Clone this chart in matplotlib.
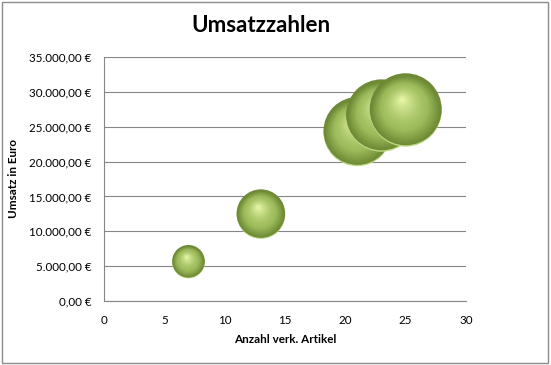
import matplotlib
matplotlib.use("Agg")
import matplotlib.pyplot as plt
import matplotlib.transforms as mtransforms
from matplotlib.patches import Rectangle
from matplotlib.ticker import FuncFormatter
import numpy as np

# Daten
artikel = [7, 13, 21, 23, 25]
umsatz = [5600, 12400, 24200, 26500, 27300]
groesse = [5600, 12400, 24200, 26500, 27300]

x_ticks = [0, 5, 10, 15, 20, 25, 30]
y_ticks = [0, 5000, 10000, 15000, 20000, 25000, 30000, 35000]

plt.rcParams['font.family'] = ['Lato', 'DejaVu Sans']

fig = plt.figure(figsize=(5.51, 3.65), dpi=100)
ax = fig.add_axes([104/551, 1-301/365, 362/551, 244/365])

# Rahmen um das Diagramm
fig.patches.append(Rectangle((0.003, 0.005), 0.992, 0.99, transform=fig.transFigure,
                             fill=False, edgecolor='#8c8c8c', linewidth=1.0))

def euro(v, pos):
    s = f"{v:,.2f}".replace(",", "X").replace(".", ",").replace("X", ".")
    return s + " €"

ax.set_xlim(0, 30)
ax.set_ylim(0, 35000)
ax.set_xticks(x_ticks)
ax.set_yticks(y_ticks)
ax.yaxis.set_major_formatter(FuncFormatter(euro))
ax.tick_params(length=0, labelsize=8.4, pad=9)
ax.tick_params(axis='x', pad=10)
ax.grid(axis='y', color='#868686', linewidth=0.8)
ax.set_axisbelow(True)
for s in ['top', 'right']:
    ax.spines[s].set_visible(False)
for s in ['left', 'bottom']:
    ax.spines[s].set_color('#868686')
    ax.spines[s].set_linewidth(0.8)

# Kugeln: mehrere Schichten pro Blase fuer den 3D-Effekt
k = 0.0984
dark = np.array([0.43, 0.54, 0.21])
body = np.array([0.62, 0.74, 0.36])
light = np.array([0.89, 0.95, 0.64])
n = 30
for xi, yi, gi in zip(artikel, umsatz, groesse):
    s0 = gi * k
    r = np.sqrt(s0) / 2  # Radius in Punkten
    # heller Rand unten
    ax.scatter([xi], [yi], s=s0, color=(0.74, 0.85, 0.50), edgecolors='none', zorder=3)
    for i in range(n):
        t = i / (n - 1)
        rr = r * (1 - 0.93 * t) * (0.97 if i > 0 else 1.0)
        dx = -0.10 * r * t
        dy = 0.30 * r * t
        if i == 0:
            dx, dy = 0, r * 0.04
        if t < 0.35:
            c = dark + (body - dark) * (t / 0.35)
        else:
            c = body + (light - body) * ((t - 0.35) / 0.65) ** 1.4
        tr = mtransforms.offset_copy(ax.transData, fig=fig, x=dx, y=dy, units='points')
        ax.scatter([xi], [yi], s=(2 * rr) ** 2, color=tuple(c), edgecolors='none',
                   transform=tr, zorder=3)

fig.text(261/551, 1-25/365, "Umsatzzahlen", ha='center', va='center',
         fontsize=16, fontweight='bold')
ax.set_xlabel("Anzahl verk. Artikel", fontsize=8.4, fontweight='bold', labelpad=6)
ax.set_ylabel("Umsatz in Euro", fontsize=8.4, fontweight='bold', labelpad=7)

fig.savefig("out.png", dpi=100)
